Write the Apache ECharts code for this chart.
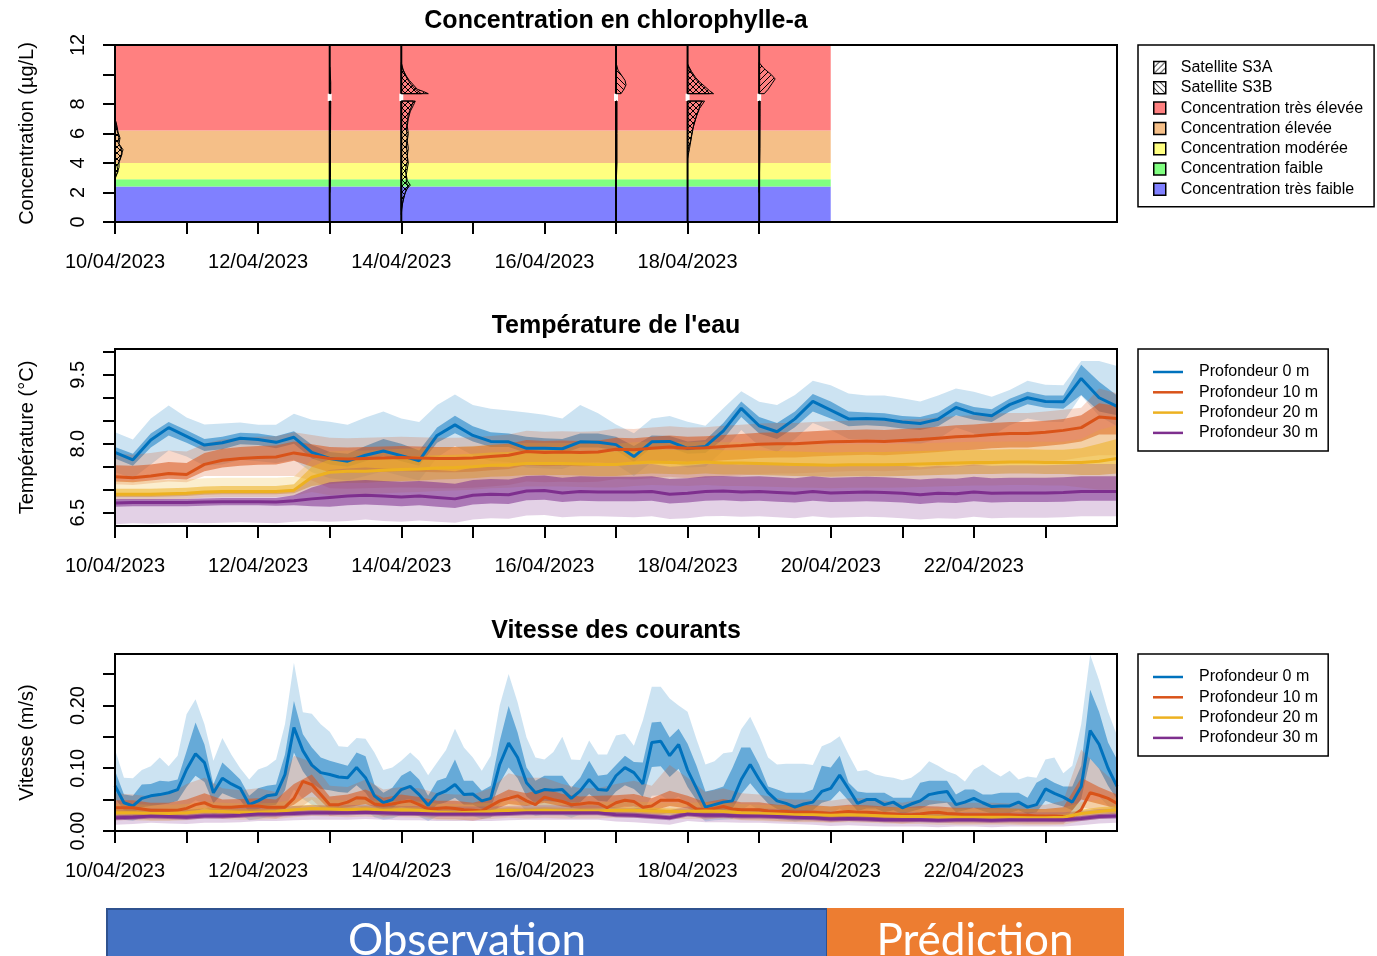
<!DOCTYPE html>
<html>
<head>
<meta charset="utf-8">
<script src="https://cdn.jsdelivr.net/npm/echarts@6/dist/echarts.min.js"></script>
<style>
  html, body { margin: 0; padding: 0; background: #fff; }
  #chart { width: 1377px; height: 956px; }
</style>
</head>
<body>
<div id="chart"></div>
<script>
// ---------- time base ----------
const HOUR = 3600e3, DAY = 24 * HOUR;
const T0 = Date.UTC(2023, 3, 10);
const T_END = Date.UTC(2023, 3, 24);
const OBS_END = Date.UTC(2023, 3, 20);

// ---------- chlorophyll-a ----------
const chlClassNames = ['Concentration très faible', 'Concentration faible', 'Concentration modérée',
  'Concentration élevée', 'Concentration très élevée'];
const chlClassBounds = [0, 2.4, 2.9, 4, 6.2, 12];
const passDates = ['2023-04-13', '2023-04-14', '2023-04-17', '2023-04-18', '2023-04-19'];

// satellite concentration profiles: [concentration µg/L, density]
const s3aApr10 = [[2.9,0],[3.3,2],[3.7,4],[4.1,4],[4.5,6],[4.9,8],[5.3,4],[5.7,5],[6.1,3],[6.5,2],[7.0,0]];
const s3bApr10 = [[3.0,0],[3.4,3],[3.8,2],[4.2,5],[4.6,7],[5.0,6],[5.4,3],[5.8,4],[6.2,2],[6.7,1],[7.0,0]];
const s3aApr13Low = [[2.0,0],[3.0,0.8],[6.0,0.8],[8.2,1]];
const s3aApr13High = [[8.7,1],[9.5,1],[10.5,0]];
const s3aApr14Low = [[0.5,0],[1.2,1],[1.8,3],[2.2,5],[2.5,9],[2.8,6],[3.2,5],[3.6,6],[4.0,7],[4.5,6],[5.0,7],[5.5,6],[6.0,7],[6.5,6],[7.0,7],[7.5,9],[7.9,12],[8.2,14]];
const s3bApr14Low = [[0.8,0],[1.5,2],[2.0,4],[2.4,7],[2.7,5],[3.1,5],[3.5,4],[4.1,6],[4.6,6],[5.2,5],[5.8,6],[6.3,5],[6.8,6],[7.3,7],[7.8,10],[8.2,12]];
const s3aApr14High = [[8.7,27],[8.85,22],[9.0,16],[9.3,12],[9.6,8],[9.9,5],[10.3,2],[10.8,0]];
const s3bApr14High = [[8.7,20],[9.0,14],[9.3,10],[9.7,6],[10.1,3],[10.6,0]];
const s3bApr17Low = [[2.3,0],[4.0,1],[6.0,1],[8.2,1]];
const s3bApr17High = [[8.7,5],[9.0,8],[9.3,10],[9.6,9],[9.9,6],[10.3,2],[10.8,0]];
const s3aApr18Low = [[4.3,0],[5.0,2],[5.8,4],[6.5,6],[7.2,9],[7.7,12],[8.2,17]];
const s3bApr18Low = [[4.8,0],[5.5,3],[6.3,5],[7.0,8],[7.6,11],[8.2,14]];
const s3aApr18High = [[8.7,26],[8.9,22],[9.2,17],[9.5,12],[9.8,8],[10.2,4],[10.7,0]];
const s3bApr18High = [[8.7,22],[9.0,18],[9.3,13],[9.7,8],[10.2,3],[10.7,0]];
const s3aApr19Low = [[2.0,0],[5.0,0.8],[8.2,1]];
const s3aApr19High = [[8.7,5],[9.0,9],[9.4,13],[9.7,16],[10.0,12],[10.4,5],[10.8,0]];

// ---------- water temperature (°C), every 6 h ----------
const tempMed0 = [7.81,7.65,8.08,8.35,8.16,7.97,8.02,8.12,8.09,8.03, 8.14,7.81,7.68,7.62,7.75,7.84,7.74,7.63,8.18,8.41, 8.18,8.05,8.04,7.90,7.90,7.89,8.04,8.03,7.98,7.72, 8.04,8.05,7.90,7.94,8.28,8.77,8.39,8.26,8.54,8.92, 8.73,8.54,8.55,8.53,8.47,8.44,8.53,8.79,8.66,8.61, 8.85,9.00,8.92,8.91,9.42,9.00,8.81];
const tempIn0Hi = [7.93,7.78,8.22,8.47,8.29,8.10,8.15,8.24,8.22,8.16, 8.27,7.98,7.82,7.78,7.95,8.10,8.00,7.85,8.35,8.61, 8.38,8.25,8.22,8.15,8.12,8.10,8.22,8.22,8.15,7.95, 8.18,8.17,8.05,8.08,8.45,8.92,8.58,8.45,8.70,9.08, 8.92,8.70,8.68,8.66,8.60,8.58,8.68,8.92,8.80,8.75, 8.98,9.13,9.05,9.05,9.72,9.35,9.05];
const tempIn0Lo = [7.68,7.52,7.92,8.18,8.02,7.84,7.88,7.99,7.97,7.90, 8.00,7.68,7.55,7.50,7.62,7.74,7.62,7.52,8.02,8.23, 8.05,7.93,7.93,7.80,7.80,7.78,7.92,7.92,7.86,7.60, 7.92,7.92,7.78,7.80,8.10,8.58,8.22,8.10,8.36,8.70, 8.55,8.38,8.40,8.38,8.33,8.30,8.38,8.62,8.52,8.47, 8.70,8.86,8.78,8.76,9.06,8.70,8.62];
const tempOut0Hi = [8.25,8.09,8.55,8.83,8.57,8.42,8.44,8.46,8.41,8.41, 8.65,8.52,8.48,8.41,8.57,8.70,8.55,8.47,8.84,9.07, 8.84,8.76,8.72,8.68,8.63,8.55,8.84,8.66,8.42,8.23, 8.55,8.60,8.48,8.39,8.77,9.14,8.91,8.84,9.06,9.37, 9.27,9.09,9.05,9.05,8.99,8.92,9.05,9.20,9.13,9.02, 9.17,9.37,9.28,9.27,9.80,9.80,9.69];
const tempOut0Lo = [7.38,7.25,7.55,7.85,7.72,7.52,7.55,7.65,7.62,7.58, 7.65,7.38,7.25,7.20,7.30,7.40,7.30,7.20,7.70,7.95, 7.75,7.62,7.60,7.48,7.46,7.45,7.58,7.60,7.55,7.30, 7.60,7.60,7.48,7.50,7.85,8.30,7.95,7.82,8.10,8.45, 8.30,8.10,8.10,8.08,8.02,8.00,8.10,8.35,8.22,8.17, 8.40,8.55,8.48,8.47,9.05,8.60,8.38];

const tempMed10 = [7.28,7.26,7.30,7.35,7.33,7.55,7.64,7.68,7.70,7.71, 7.80,7.74,7.68,7.67,7.68,7.69,7.70,7.69,7.68,7.68, 7.69,7.72,7.75,7.83,7.81,7.82,7.81,7.82,7.88,7.87, 7.90,7.93,7.90,7.91,7.94,7.96,7.99,8.00,8.00,8.02, 8.04,8.05,8.06,8.05,8.07,8.09,8.12,8.15,8.17,8.20, 8.22,8.22,8.25,8.29,8.35,8.58,8.55];
const tempIn10Hi = [7.53,7.52,7.55,7.60,7.58,7.80,7.89,7.93,7.95,7.96, 8.05,7.99,7.93,7.92,7.93,7.94,7.95,7.94,7.93,7.93, 7.94,7.97,8.00,8.08,8.06,8.07,8.06,8.07,8.13,8.12, 8.15,8.18,8.15,8.16,8.19,8.21,8.24,8.25,8.25,8.27, 8.29,8.30,8.31,8.30,8.32,8.34,8.37,8.40,8.42,8.45, 8.47,8.47,8.50,8.54,8.62,8.88,8.82];
const tempIn10Lo = [7.18,7.16,7.20,7.24,7.22,7.40,7.48,7.52,7.54,7.55, 7.63,7.50,7.38,7.37,7.38,7.39,7.40,7.39,7.38,7.38, 7.39,7.42,7.45,7.53,7.51,7.52,7.51,7.52,7.58,7.57, 7.60,7.63,7.60,7.61,7.64,7.66,7.69,7.70,7.70,7.72, 7.74,7.75,7.76,7.75,7.77,7.79,7.82,7.85,7.87,7.90, 7.92,7.92,7.95,7.99,8.05,8.20,8.20];
const tempOut10Hi = [7.78,7.76,7.80,7.85,7.83,8.00,8.09,8.13,8.15,8.16, 8.25,8.19,8.13,8.12,8.13,8.14,8.15,8.14,8.13,8.13, 8.14,8.17,8.20,8.28,8.26,8.27,8.26,8.27,8.33,8.32, 8.35,8.38,8.35,8.36,8.39,8.41,8.44,8.45,8.45,8.47, 8.49,8.50,8.51,8.50,8.52,8.54,8.57,8.60,8.62,8.65, 8.67,8.67,8.70,8.74,8.78,9.20,9.10];
const tempOut10Lo = [7.12,7.10,7.14,7.18,7.16,7.30,7.30,7.30,7.30,7.30, 7.30,7.20,7.03,7.02,7.03,7.04,7.05,7.04,7.03,7.03, 7.04,7.07,7.10,7.18,7.16,7.17,7.16,7.17,7.23,7.22, 7.25,7.28,7.25,7.26,7.29,7.31,7.34,7.35,7.35,7.37, 7.39,7.40,7.41,7.40,7.42,7.44,7.47,7.50,7.52,7.55, 7.57,7.57,7.60,7.64,7.70,7.75,7.75];

const tempMed20 = [6.90,6.90,6.90,6.91,6.92,6.95,6.96,6.96,6.96,6.96, 6.99,7.27,7.38,7.40,7.40,7.42,7.44,7.45,7.47,7.48, 7.50,7.53,7.54,7.57,7.57,7.57,7.56,7.55,7.55,7.58, 7.60,7.59,7.58,7.60,7.58,7.58,7.57,7.56,7.55,7.54, 7.53,7.54,7.54,7.54,7.55,7.56,7.57,7.58,7.59,7.59, 7.60,7.60,7.59,7.59,7.59,7.62,7.68];
const tempIn20Hi = [7.02,7.02,7.02,7.03,7.04,7.07,7.08,7.08,7.08,7.08, 7.12,7.50,7.66,7.68,7.68,7.70,7.72,7.73,7.75,7.76, 7.78,7.81,7.82,7.85,7.85,7.85,7.84,7.83,7.83,7.86, 7.88,7.87,7.86,7.88,7.86,7.86,7.85,7.84,7.83,7.82, 7.81,7.82,7.82,7.82,7.83,7.84,7.85,7.86,7.87,7.87, 7.88,7.88,7.87,7.87,7.90,8.00,8.10];
const tempIn20Lo = [6.84,6.84,6.84,6.85,6.86,6.89,6.90,6.90,6.90,6.90, 6.92,7.08,7.13,7.15,7.15,7.17,7.19,7.20,7.22,7.23, 7.25,7.28,7.29,7.32,7.32,7.32,7.31,7.30,7.30,7.33, 7.35,7.34,7.33,7.35,7.33,7.33,7.32,7.31,7.30,7.29, 7.28,7.29,7.29,7.29,7.30,7.31,7.32,7.33,7.34,7.34, 7.35,7.35,7.34,7.34,7.32,7.32,7.35];
const tempOut20Hi = [7.20,7.20,7.20,7.21,7.22,7.25,7.26,7.26,7.26,7.26, 7.28,7.65,7.83,7.85,7.85,7.87,7.89,7.90,7.92,7.93, 7.95,7.98,7.99,8.02,8.02,8.02,8.01,8.00,8.00,8.03, 8.05,8.04,8.03,8.05,8.03,8.03,8.02,8.01,8.00,7.99, 7.98,7.99,7.99,7.99,8.00,8.01,8.02,8.03,8.04,8.04, 8.05,8.05,8.04,8.04,8.10,8.30,8.40];
const tempOut20Lo = [6.78,6.78,6.78,6.79,6.80,6.83,6.84,6.84,6.84,6.84, 6.87,6.95,6.88,6.90,6.90,6.92,6.94,6.95,6.97,6.98, 7.00,7.03,7.04,7.07,7.07,7.07,7.06,7.05,7.05,7.08, 7.10,7.09,7.08,7.10,7.08,7.08,7.07,7.06,7.05,7.04, 7.03,7.04,7.04,7.04,7.05,7.06,7.07,7.08,7.09,7.09, 7.10,7.10,7.09,7.09,7.05,7.00,7.00];

const tempMed30 = [6.71,6.72,6.72,6.72,6.72,6.73,6.74,6.74,6.74,6.73, 6.76,6.80,6.83,6.86,6.88,6.86,6.84,6.86,6.83,6.80, 6.88,6.90,6.89,6.97,6.98,6.93,6.96,6.95,6.95,6.95, 6.96,6.90,6.92,6.96,6.97,6.95,6.96,6.94,6.92,6.96, 6.93,6.94,6.95,6.94,6.92,6.89,6.92,6.91,6.95,6.92, 6.93,6.93,6.93,6.94,6.96,6.96,6.96];
const tempIn30Hi = [6.80,6.80,6.80,6.80,6.80,6.81,6.82,6.82,6.82,6.82, 6.88,7.05,7.16,7.19,7.21,7.19,7.17,7.19,7.16,7.13, 7.21,7.23,7.22,7.30,7.31,7.26,7.29,7.28,7.28,7.28, 7.29,7.23,7.25,7.29,7.30,7.28,7.29,7.27,7.25,7.29, 7.26,7.27,7.28,7.27,7.25,7.22,7.25,7.24,7.28,7.25, 7.26,7.26,7.26,7.27,7.29,7.29,7.29];
const tempIn30Lo = [6.63,6.64,6.64,6.64,6.64,6.65,6.66,6.66,6.66,6.65, 6.66,6.64,6.63,6.66,6.68,6.66,6.64,6.66,6.63,6.60, 6.68,6.70,6.69,6.77,6.78,6.73,6.76,6.75,6.75,6.75, 6.76,6.70,6.72,6.76,6.77,6.75,6.76,6.74,6.72,6.76, 6.73,6.74,6.75,6.74,6.72,6.69,6.72,6.71,6.75,6.72, 6.73,6.73,6.73,6.74,6.76,6.76,6.76];
const tempOut30Hi = [6.90,6.92,6.92,6.92,6.92,6.93,6.94,6.94,6.94,6.93, 7.00,7.25,7.43,7.46,7.48,7.46,7.44,7.46,7.43,7.40, 7.48,7.50,7.49,7.57,7.58,7.53,7.56,7.55,7.55,7.55, 7.56,7.50,7.52,7.56,7.57,7.55,7.56,7.54,7.52,7.56, 7.53,7.54,7.55,7.54,7.52,7.49,7.52,7.51,7.55,7.52, 7.53,7.53,7.53,7.54,7.56,7.56,7.56];
const tempOut30Lo = [6.25,6.27,6.26,6.27,6.28,6.27,6.28,6.29,6.28,6.27, 6.30,6.32,6.30,6.32,6.35,6.32,6.30,6.33,6.30,6.28, 6.35,6.38,6.37,6.44,6.45,6.40,6.42,6.42,6.41,6.40, 6.42,6.36,6.38,6.42,6.43,6.41,6.42,6.40,6.38,6.42, 6.39,6.40,6.41,6.40,6.38,6.35,6.38,6.37,6.41,6.38, 6.39,6.39,6.39,6.40,6.42,6.42,6.42];

// ---------- current speed (m/s) ----------
// 0 m and 10 m medians every 3 h
const curMed0 = [0.072,0.045,0.040,0.052,0.056,0.058,0.061,0.066,0.098,0.123, 0.109,0.061,0.084,0.075,0.068,0.042,0.048,0.056,0.058,0.090, 0.165,0.128,0.105,0.093,0.090,0.086,0.085,0.101,0.085,0.056, 0.045,0.050,0.066,0.071,0.058,0.041,0.058,0.064,0.074,0.058, 0.059,0.048,0.052,0.106,0.140,0.117,0.077,0.061,0.066,0.065, 0.066,0.052,0.064,0.082,0.066,0.065,0.088,0.101,0.093,0.075, 0.141,0.143,0.120,0.138,0.097,0.068,0.038,0.042,0.046,0.048, 0.082,0.106,0.082,0.061,0.048,0.044,0.038,0.043,0.046,0.063, 0.068,0.089,0.067,0.044,0.050,0.050,0.042,0.046,0.037,0.043, 0.048,0.058,0.061,0.063,0.042,0.046,0.052,0.045,0.039,0.040, 0.040,0.046,0.038,0.042,0.067,0.060,0.054,0.046,0.071,0.160, 0.138,0.100,0.071];
const curIn0Hi = [0.096,0.058,0.056,0.074,0.075,0.080,0.079,0.082,0.127,0.173, 0.138,0.074,0.109,0.096,0.082,0.056,0.068,0.072,0.074,0.122, 0.207,0.154,0.133,0.117,0.112,0.108,0.104,0.125,0.119,0.074, 0.061,0.069,0.088,0.096,0.082,0.056,0.080,0.085,0.114,0.080, 0.080,0.064,0.072,0.143,0.199,0.157,0.101,0.080,0.088,0.088, 0.088,0.069,0.085,0.112,0.088,0.090,0.105,0.120,0.110,0.109, 0.173,0.174,0.149,0.163,0.139,0.104,0.063,0.066,0.071,0.100, 0.133,0.133,0.106,0.071,0.066,0.061,0.061,0.061,0.066,0.104, 0.101,0.120,0.077,0.063,0.061,0.061,0.061,0.053,0.053,0.053, 0.077,0.080,0.080,0.080,0.058,0.066,0.066,0.058,0.058,0.061, 0.061,0.061,0.053,0.077,0.085,0.077,0.071,0.071,0.104,0.225, 0.190,0.141,0.114];
const curIn0Lo = [0.052,0.033,0.029,0.038,0.040,0.042,0.044,0.048,0.070,0.088, 0.078,0.044,0.060,0.054,0.049,0.030,0.035,0.040,0.042,0.065, 0.125,0.095,0.076,0.067,0.065,0.062,0.061,0.073,0.061,0.040, 0.032,0.036,0.048,0.051,0.042,0.030,0.042,0.046,0.053,0.042, 0.042,0.035,0.037,0.076,0.101,0.084,0.055,0.044,0.048,0.047, 0.048,0.037,0.046,0.059,0.048,0.047,0.063,0.073,0.067,0.054, 0.102,0.103,0.086,0.099,0.070,0.049,0.027,0.030,0.033,0.035, 0.059,0.076,0.059,0.044,0.035,0.032,0.027,0.031,0.033,0.045, 0.049,0.064,0.048,0.032,0.036,0.036,0.030,0.033,0.027,0.031, 0.035,0.042,0.044,0.045,0.030,0.033,0.037,0.032,0.028,0.029, 0.029,0.033,0.027,0.030,0.048,0.043,0.039,0.033,0.051,0.115, 0.099,0.072,0.051];
const curOut0Hi = [0.130,0.085,0.084,0.097,0.103,0.117,0.103,0.120,0.186,0.210, 0.170,0.112,0.148,0.122,0.100,0.082,0.098,0.103,0.114,0.170, 0.268,0.189,0.187,0.170,0.158,0.135,0.134,0.148,0.147,0.125, 0.097,0.101,0.112,0.125,0.112,0.089,0.109,0.129,0.163,0.133, 0.117,0.096,0.120,0.200,0.250,0.205,0.149,0.117,0.114,0.126, 0.150,0.114,0.113,0.144,0.122,0.122,0.152,0.155,0.136,0.176, 0.230,0.230,0.211,0.200,0.190,0.146,0.106,0.111,0.124,0.126, 0.162,0.182,0.152,0.117,0.106,0.107,0.107,0.107,0.105,0.135, 0.141,0.151,0.122,0.095,0.097,0.090,0.087,0.085,0.081,0.085, 0.095,0.111,0.104,0.095,0.090,0.079,0.098,0.106,0.095,0.087, 0.096,0.082,0.087,0.085,0.114,0.117,0.092,0.104,0.170,0.281, 0.240,0.190,0.152];
const curOut0Lo = [0.029,0.018,0.016,0.021,0.022,0.023,0.024,0.026,0.039,0.049, 0.044,0.024,0.034,0.030,0.027,0.017,0.019,0.022,0.023,0.036, 0.066,0.051,0.042,0.037,0.036,0.034,0.034,0.040,0.034,0.022, 0.018,0.020,0.026,0.028,0.023,0.016,0.023,0.026,0.030,0.023, 0.024,0.019,0.021,0.042,0.056,0.047,0.031,0.024,0.026,0.026, 0.026,0.021,0.026,0.033,0.026,0.026,0.035,0.040,0.037,0.030, 0.056,0.057,0.048,0.055,0.039,0.027,0.015,0.017,0.018,0.019, 0.033,0.042,0.033,0.024,0.019,0.018,0.015,0.017,0.018,0.025, 0.027,0.036,0.027,0.018,0.020,0.020,0.017,0.018,0.015,0.017, 0.019,0.023,0.024,0.025,0.017,0.018,0.021,0.018,0.016,0.016, 0.016,0.018,0.015,0.017,0.027,0.024,0.022,0.018,0.028,0.064, 0.055,0.040,0.028];

const curMed10 = [0.037,0.037,0.037,0.035,0.033,0.033,0.033,0.033,0.036,0.042, 0.045,0.039,0.038,0.038,0.039,0.040,0.040,0.038,0.038,0.038, 0.052,0.079,0.074,0.058,0.042,0.042,0.046,0.053,0.052,0.043, 0.041,0.043,0.046,0.048,0.042,0.035,0.036,0.037,0.036,0.034, 0.033,0.032,0.040,0.048,0.052,0.056,0.048,0.042,0.054,0.050, 0.047,0.042,0.043,0.045,0.044,0.037,0.045,0.049,0.047,0.038, 0.040,0.049,0.049,0.049,0.044,0.035,0.034,0.036,0.039,0.035, 0.034,0.034,0.034,0.032,0.031,0.031,0.030,0.030,0.030,0.029, 0.028,0.030,0.031,0.030,0.030,0.029,0.028,0.027,0.026,0.026, 0.027,0.029,0.030,0.028,0.027,0.026,0.026,0.026,0.026,0.026, 0.026,0.025,0.025,0.024,0.024,0.024,0.023,0.023,0.034,0.061, 0.057,0.052,0.044];
// 10 m envelopes every 6 h
const curIn10Hi = [0.049,0.049,0.045,0.045,0.050,0.060,0.050,0.051,0.052,0.050, 0.075,0.090,0.055,0.058,0.066,0.053,0.058,0.054,0.048,0.048, 0.045,0.052,0.066,0.060,0.068,0.059,0.055,0.056,0.057,0.059, 0.052,0.064,0.056,0.046,0.051,0.046,0.046,0.042,0.041,0.041, 0.039,0.042,0.041,0.039,0.037,0.040,0.039,0.037,0.037,0.037, 0.036,0.035,0.035,0.038,0.085,0.070,0.058];
const curIn10Lo = [0.029,0.029,0.025,0.025,0.028,0.036,0.030,0.031,0.032,0.030, 0.042,0.062,0.034,0.038,0.043,0.033,0.038,0.034,0.028,0.028, 0.025,0.032,0.043,0.040,0.045,0.039,0.035,0.036,0.037,0.039, 0.032,0.040,0.036,0.026,0.031,0.026,0.026,0.023,0.022,0.022, 0.020,0.023,0.022,0.020,0.018,0.021,0.020,0.018,0.018,0.018, 0.017,0.016,0.016,0.015,0.050,0.043,0.036];
const curOut10Hi = [0.060,0.058,0.055,0.058,0.075,0.085,0.068,0.065,0.068,0.062, 0.120,0.110,0.072,0.070,0.082,0.066,0.070,0.068,0.060,0.058, 0.058,0.068,0.092,0.085,0.085,0.075,0.068,0.068,0.075,0.080, 0.072,0.105,0.085,0.062,0.068,0.060,0.058,0.052,0.050,0.050, 0.048,0.052,0.052,0.048,0.045,0.050,0.048,0.045,0.045,0.045, 0.044,0.042,0.042,0.048,0.130,0.100,0.075];
const curOut10Lo = [0.020,0.020,0.017,0.017,0.019,0.026,0.020,0.021,0.022,0.020, 0.030,0.050,0.024,0.027,0.032,0.023,0.027,0.024,0.019,0.019, 0.016,0.022,0.032,0.029,0.034,0.028,0.025,0.026,0.027,0.028, 0.022,0.030,0.026,0.018,0.022,0.018,0.018,0.016,0.015,0.015, 0.014,0.016,0.015,0.014,0.012,0.015,0.014,0.012,0.012,0.012, 0.012,0.011,0.011,0.011,0.038,0.032,0.026];

// 20 m and 30 m every 6 h
const curMed20 = [0.029,0.029,0.028,0.028,0.029,0.032,0.031,0.030,0.030,0.031, 0.034,0.036,0.035,0.034,0.035,0.033,0.034,0.033,0.030,0.029, 0.030,0.031,0.033,0.032,0.033,0.032,0.032,0.032,0.033,0.033, 0.032,0.031,0.031,0.032,0.031,0.029,0.028,0.027,0.026,0.026, 0.025,0.026,0.025,0.024,0.023,0.023,0.022,0.022,0.022,0.022, 0.022,0.021,0.021,0.022,0.028,0.031,0.034];
const curIn20Hi = [0.034,0.034,0.033,0.033,0.034,0.037,0.036,0.035,0.035,0.036, 0.040,0.042,0.040,0.039,0.040,0.038,0.039,0.038,0.035,0.034, 0.035,0.036,0.038,0.037,0.038,0.037,0.037,0.037,0.038,0.038, 0.037,0.036,0.036,0.037,0.036,0.034,0.033,0.032,0.031,0.031, 0.030,0.031,0.030,0.029,0.028,0.028,0.027,0.027,0.027,0.027, 0.027,0.026,0.026,0.027,0.034,0.038,0.040];
const curIn20Lo = [0.024,0.024,0.023,0.023,0.024,0.027,0.026,0.025,0.025,0.026, 0.029,0.031,0.030,0.029,0.030,0.028,0.029,0.028,0.025,0.024, 0.025,0.026,0.028,0.027,0.028,0.027,0.027,0.027,0.028,0.028, 0.027,0.026,0.026,0.027,0.026,0.024,0.023,0.022,0.021,0.021, 0.020,0.021,0.020,0.019,0.018,0.018,0.017,0.017,0.017,0.017, 0.017,0.016,0.016,0.017,0.022,0.025,0.028];
const curOut20Hi = [0.043,0.043,0.042,0.042,0.043,0.047,0.045,0.044,0.044,0.045, 0.050,0.054,0.050,0.048,0.050,0.047,0.048,0.047,0.044,0.043, 0.044,0.045,0.048,0.046,0.048,0.046,0.046,0.046,0.047,0.047, 0.046,0.045,0.045,0.046,0.045,0.043,0.042,0.041,0.040,0.040, 0.039,0.040,0.039,0.038,0.037,0.037,0.036,0.036,0.036,0.036, 0.036,0.035,0.035,0.037,0.046,0.050,0.052];
const curOut20Lo = [0.017,0.017,0.016,0.016,0.017,0.020,0.019,0.018,0.018,0.019, 0.022,0.024,0.023,0.022,0.023,0.021,0.022,0.021,0.018,0.017, 0.018,0.019,0.021,0.020,0.021,0.020,0.020,0.020,0.021,0.021, 0.020,0.019,0.019,0.020,0.019,0.017,0.016,0.015,0.014,0.014, 0.013,0.014,0.013,0.012,0.011,0.011,0.010,0.010,0.010,0.010, 0.010,0.009,0.009,0.010,0.016,0.019,0.022];

const curMed30 = [0.021,0.022,0.024,0.023,0.022,0.024,0.024,0.025,0.027,0.027, 0.028,0.029,0.029,0.029,0.030,0.029,0.028,0.028,0.027,0.027, 0.027,0.027,0.028,0.029,0.029,0.029,0.029,0.029,0.026,0.025, 0.023,0.021,0.027,0.025,0.025,0.024,0.024,0.023,0.022,0.021, 0.019,0.020,0.019,0.018,0.018,0.018,0.017,0.018,0.018,0.017, 0.018,0.018,0.018,0.018,0.020,0.023,0.024];
const curIn30Hi = [0.025,0.026,0.028,0.027,0.026,0.028,0.028,0.029,0.031,0.031, 0.032,0.033,0.033,0.033,0.034,0.033,0.032,0.032,0.031,0.031, 0.031,0.031,0.032,0.033,0.033,0.033,0.033,0.033,0.030,0.029, 0.027,0.025,0.031,0.029,0.029,0.028,0.028,0.027,0.026,0.025, 0.023,0.024,0.023,0.022,0.022,0.022,0.021,0.022,0.022,0.021, 0.022,0.022,0.022,0.022,0.024,0.027,0.028];
const curIn30Lo = [0.017,0.018,0.020,0.019,0.018,0.020,0.020,0.021,0.023,0.023, 0.024,0.025,0.025,0.025,0.026,0.025,0.024,0.024,0.023,0.023, 0.023,0.023,0.024,0.025,0.025,0.025,0.025,0.025,0.022,0.021, 0.019,0.017,0.023,0.021,0.021,0.020,0.020,0.019,0.018,0.017, 0.015,0.016,0.015,0.014,0.014,0.014,0.013,0.014,0.014,0.013, 0.014,0.014,0.014,0.014,0.016,0.019,0.020];
const curOut30Hi = [0.033,0.034,0.036,0.035,0.034,0.036,0.036,0.037,0.039,0.039, 0.040,0.041,0.041,0.041,0.042,0.041,0.040,0.040,0.039,0.039, 0.039,0.039,0.040,0.041,0.041,0.041,0.041,0.041,0.038,0.037, 0.035,0.033,0.039,0.037,0.037,0.036,0.036,0.035,0.034,0.033, 0.031,0.032,0.031,0.030,0.030,0.030,0.029,0.030,0.030,0.029, 0.030,0.030,0.030,0.030,0.032,0.035,0.036];
const curOut30Lo = [0.010,0.011,0.013,0.012,0.011,0.013,0.013,0.014,0.016,0.016, 0.017,0.018,0.018,0.018,0.019,0.018,0.017,0.017,0.016,0.016, 0.016,0.016,0.017,0.018,0.018,0.018,0.018,0.018,0.015,0.014, 0.012,0.010,0.016,0.014,0.014,0.013,0.013,0.012,0.011,0.010, 0.008,0.009,0.008,0.007,0.007,0.007,0.006,0.007,0.007,0.006, 0.007,0.007,0.007,0.007,0.009,0.012,0.013];

// ---------- axis labelling ----------
const depthNames = ['Profondeur 0 m', 'Profondeur 10 m', 'Profondeur 20 m', 'Profondeur 30 m'];
const chlTicks = [0, 2, 4, 6, 8, 10, 12];
const chlLabels = [0, 2, 4, 6, 8, 12];
const tempTicks = [6.5, 7.0, 7.5, 8.0, 8.5, 9.0, 9.5, 10.0];
const tempLabels = [6.5, 8.0, 9.5];
const curTicks = [0, 0.05, 0.10, 0.15, 0.20, 0.25];
const curLabels = [0, 0.10, 0.20];

// ---------- styling ----------
const FONT = "'Liberation Sans', Arial, Helvetica, sans-serif";
const DEPTH_COLORS = ['#0072BD', '#D95319', '#EDB120', '#7E2F8E'];
const OUTER_ALPHA = [0.2, 0.22, 0.22, 0.22];
const INNER_ALPHA = [0.5, 0.55, 0.55, 0.55];
const CLASS_COLORS = ['#8080FF', '#80FF80', '#FFFF80', '#F5BF88', '#FF8080'];
const DENS_UNIT = DAY / 71.57;   // one density unit spans one pixel width of a day

const day = s => Date.UTC(+s.slice(0, 4), +s.slice(5, 7) - 1, +s.slice(8, 10));
const steps = (n, h) => Array.from({ length: n }, (_, k) => T0 + k * h * HOUR);
const T6 = steps(57, 6), T3 = steps(113, 3);
const dayTicks = n => Array.from({ length: n }, (_, k) => T0 + k * DAY);
const pad = n => (n < 10 ? '0' : '') + n;
const fmtDate = v => { const d = new Date(v); return pad(d.getUTCDate()) + '/' + pad(d.getUTCMonth() + 1) + '/' + d.getUTCFullYear(); };

function hatch(dir) {
  const c = document.createElement('canvas');
  c.width = c.height = 6;
  const g = c.getContext('2d');
  g.strokeStyle = '#000'; g.lineWidth = 1;
  g.beginPath();
  if (dir > 0) { g.moveTo(0, 6); g.lineTo(6, 0); g.moveTo(-1, 1); g.lineTo(1, -1); g.moveTo(5, 7); g.lineTo(7, 5); }
  else { g.moveTo(0, 0); g.lineTo(6, 6); g.moveTo(5, -1); g.lineTo(7, 1); g.moveTo(-1, 5); g.lineTo(1, 7); }
  g.stroke();
  return { image: c, repeat: 'repeat' };
}
const HATCH_A = hatch(1), HATCH_B = hatch(-1);

const satProfiles = {
  'Satellite S3A': [
    ['2023-04-10', s3aApr10], ['2023-04-13', s3aApr13Low], ['2023-04-13', s3aApr13High],
    ['2023-04-14', s3aApr14Low], ['2023-04-14', s3aApr14High],
    ['2023-04-18', s3aApr18Low], ['2023-04-18', s3aApr18High],
    ['2023-04-19', s3aApr19Low], ['2023-04-19', s3aApr19High]
  ],
  'Satellite S3B': [
    ['2023-04-10', s3bApr10], ['2023-04-14', s3bApr14Low], ['2023-04-14', s3bApr14High],
    ['2023-04-17', s3bApr17Low], ['2023-04-17', s3bApr17High],
    ['2023-04-18', s3bApr18Low], ['2023-04-18', s3bApr18High]
  ]
};

// ---------- series builders ----------
function band(gi, times, lo, hi, color, alpha) {
  return {
    type: 'custom', xAxisIndex: gi, yAxisIndex: gi, silent: true, z: 2, clip: true,
    data: [[T0, 0]],
    renderItem: (p, api) => {
      const top = times.map((t, k) => api.coord([t, hi[k]]));
      const bot = times.map((t, k) => api.coord([t, lo[k]])).reverse();
      return { type: 'polygon', shape: { points: top.concat(bot) }, style: { fill: color, opacity: alpha } };
    }
  };
}
function medianLine(gi, name, times, vals, color) {
  return {
    type: 'line', name, xAxisIndex: gi, yAxisIndex: gi, z: 4, silent: true, animation: false,
    showSymbol: false, symbol: 'none', clip: true,
    lineStyle: { width: 3, color }, itemStyle: { color },
    data: times.map((t, k) => [t, vals[k]])
  };
}

const series = [];

// chlorophyll classes (background bands over the observation period)
chlClassNames.forEach((name, k) => series.push({
  type: 'custom', name, xAxisIndex: 0, yAxisIndex: 0, silent: true, z: 1,
  itemStyle: { color: CLASS_COLORS[k] },
  data: [[T0, 0]],
  renderItem: (p, api) => {
    const a = api.coord([T0, chlClassBounds[k + 1]]);
    const b = api.coord([OBS_END, chlClassBounds[k]]);
    return { type: 'rect', shape: { x: a[0], y: a[1], width: b[0] - a[0], height: b[1] - a[1] }, style: { fill: CLASS_COLORS[k] } };
  }
}));

// satellite pass markers
series.push({
  type: 'custom', xAxisIndex: 0, yAxisIndex: 0, silent: true, z: 3,
  data: [[T0, 0]],
  renderItem: (p, api) => ({
    type: 'group',
    children: passDates.flatMap(d => {
      const t = day(d);
      const a = api.coord([t, 0]), b = api.coord([t, 12]);
      const g1 = api.coord([t, 8.7]), g2 = api.coord([t, 8.2]);
      return [
        { type: 'line', shape: { x1: a[0], y1: a[1], x2: b[0], y2: b[1] }, style: { stroke: '#000', lineWidth: 2 } },
        { type: 'rect', shape: { x: g1[0] - 2, y: g1[1], width: 4, height: g2[1] - g1[1] }, style: { fill: '#fff' } }
      ];
    })
  })
});

// satellite concentration profiles
Object.keys(satProfiles).forEach(name => {
  const fill = name === 'Satellite S3A' ? HATCH_A : HATCH_B;
  series.push({
    type: 'custom', name, xAxisIndex: 0, yAxisIndex: 0, silent: true, z: 3,
    itemStyle: { color: fill, borderColor: '#000', borderWidth: 1 },
    data: [[T0, 0]],
    renderItem: (p, api) => ({
      type: 'group',
      children: satProfiles[name].map(([d, prof]) => {
        const t = day(d);
        const pts = [api.coord([t, prof[0][0]])];
        prof.forEach(([c, w]) => pts.push(api.coord([t + w * DENS_UNIT, c])));
        pts.push(api.coord([t, prof[prof.length - 1][0]]));
        return { type: 'polygon', shape: { points: pts }, style: { fill, stroke: '#000', lineWidth: 1 } };
      })
    })
  });
});

// temperature bands and medians
const tempSets = [
  [tempMed0, tempIn0Lo, tempIn0Hi, tempOut0Lo, tempOut0Hi],
  [tempMed10, tempIn10Lo, tempIn10Hi, tempOut10Lo, tempOut10Hi],
  [tempMed20, tempIn20Lo, tempIn20Hi, tempOut20Lo, tempOut20Hi],
  [tempMed30, tempIn30Lo, tempIn30Hi, tempOut30Lo, tempOut30Hi]
];
tempSets.forEach((s, k) => {
  series.push(band(1, T6, s[3], s[4], DEPTH_COLORS[k], OUTER_ALPHA[k]));
  series.push(band(1, T6, s[1], s[2], DEPTH_COLORS[k], INNER_ALPHA[k]));
});
tempSets.forEach((s, k) => series.push(medianLine(1, depthNames[k], T6, s[0], DEPTH_COLORS[k])));

// current bands and medians
const curSets = [
  [T3, curMed0, T3, curIn0Lo, curIn0Hi, curOut0Lo, curOut0Hi],
  [T3, curMed10, T6, curIn10Lo, curIn10Hi, curOut10Lo, curOut10Hi],
  [T6, curMed20, T6, curIn20Lo, curIn20Hi, curOut20Lo, curOut20Hi],
  [T6, curMed30, T6, curIn30Lo, curIn30Hi, curOut30Lo, curOut30Hi]
];
curSets.forEach((s, k) => {
  series.push(band(2, s[2], s[5], s[6], DEPTH_COLORS[k], OUTER_ALPHA[k]));
  series.push(band(2, s[2], s[3], s[4], DEPTH_COLORS[k], INNER_ALPHA[k]));
});
curSets.forEach((s, k) => series.push(medianLine(2, depthNames[k], s[0], s[1], DEPTH_COLORS[k])));

// ---------- axes ----------
const GRID_TOPS = [45, 349, 654];
const grids = GRID_TOPS.map(top => ({
  left: 115, top, width: 1002, height: 177, show: true, z: 10,
  borderColor: '#000', borderWidth: 2, backgroundColor: 'transparent',
  containLabel: false, outerBoundsMode: 'none'
}));

const axisText = { color: '#000', fontFamily: FONT, fontSize: 20 };
const xAxes = [0, 1, 2].map(gi => ({
  type: 'value', gridIndex: gi, min: T0, max: T_END, z: 10,
  axisLine: { show: true, onZero: false, lineStyle: { color: '#000', width: 2 } },
  axisTick: { show: true, length: 12, lineStyle: { color: '#000', width: 2 },
    customValues: gi === 0 ? dayTicks(10) : dayTicks(14) },
  axisLabel: { ...axisText, margin: 30, formatter: fmtDate,
    customValues: (gi === 0 ? dayTicks(10) : dayTicks(14)).filter((_, k) => k % 2 === 0) },
  splitLine: { show: false }
}));

function yAxis(gi, min, max, ticks, labels, digits, name) {
  return {
    type: 'value', gridIndex: gi, min, max, z: 10,
    name, nameLocation: 'middle', nameRotate: 90, nameGap: 78,
    nameTextStyle: { ...axisText },
    axisLine: { show: true, onZero: false, lineStyle: { color: '#000', width: 2 } },
    axisTick: { show: true, length: 12, lineStyle: { color: '#000', width: 2 }, customValues: ticks },
    axisLabel: { ...axisText, rotate: 90, margin: 27, customValues: labels, formatter: v => v.toFixed(digits) },
    splitLine: { show: false }
  };
}

// ---------- legends ----------
const legendBase = {
  orient: 'vertical', left: 1138, selectedMode: false,
  borderColor: '#000', borderWidth: 1.5, borderRadius: 0, backgroundColor: '#fff',
  textStyle: { fontSize: 16, fontFamily: FONT, color: '#000' }
};

const option = {
  animation: false,
  backgroundColor: '#fff',
  title: [
    { text: 'Concentration en chlorophylle-a', top: 9 },
    { text: "Température de l'eau", top: 314 },
    { text: 'Vitesse des courants', top: 619 }
  ].map(t => ({ ...t, left: 616, textAlign: 'center', padding: 0,
    textStyle: { fontSize: 25, fontWeight: 'bold', fontFamily: FONT, color: '#000' } })),
  grid: grids,
  xAxis: xAxes,
  yAxis: [
    yAxis(0, 0, 12, chlTicks, chlLabels, 0, 'Concentration (µg/L)'),
    yAxis(1, 6.21, 10.06, tempTicks, tempLabels, 1, 'Température (°C)'),
    yAxis(2, 0, 0.282, curTicks, curLabels, 2, 'Vitesse (m/s)')
  ],
  legend: [
    { ...legendBase, top: 45, padding: [14.5, 11, 9.5, 15], itemGap: 4.3,
      data: ['Satellite S3A', 'Satellite S3B', ...chlClassNames.slice().reverse()],
      icon: 'rect', itemWidth: 12, itemHeight: 12,
      itemStyle: { borderColor: '#000', borderWidth: 1.5 },
      textStyle: { ...legendBase.textStyle, padding: [0, 0, 0, 10] } },
    ...[349, 654].map(top => ({ ...legendBase, top, padding: [15, 10, 10, 15], itemGap: 4.3,
      data: depthNames, icon: 'rect', itemWidth: 30, itemHeight: 2.5,
      textStyle: { ...legendBase.textStyle, padding: [0, 0, 0, 11] } }))
  ],
  graphic: [
    { type: 'rect', z: 20, shape: { x: 107, y: 909, width: 720, height: 60 }, style: { fill: '#4472C4', stroke: '#2F528F', lineWidth: 2 } },
    { type: 'rect', z: 20, shape: { x: 827, y: 908, width: 297, height: 60 }, style: { fill: '#ED7D31' } },
    { type: 'text', z: 21, x: 467, y: 963, style: { text: 'Observation', fill: '#fff', fontSize: 44, fontFamily: 'Lato, sans-serif', align: 'center', verticalAlign: 'bottom' } },
    { type: 'text', z: 21, x: 975, y: 963, style: { text: 'Prédiction', fill: '#fff', fontSize: 44, fontFamily: 'Lato, sans-serif', align: 'center', verticalAlign: 'bottom' } }
  ],
  series
};

const chart = echarts.init(document.getElementById('chart'), null, { renderer: 'canvas' });
chart.setOption(option);
</script>
</body>
</html>
